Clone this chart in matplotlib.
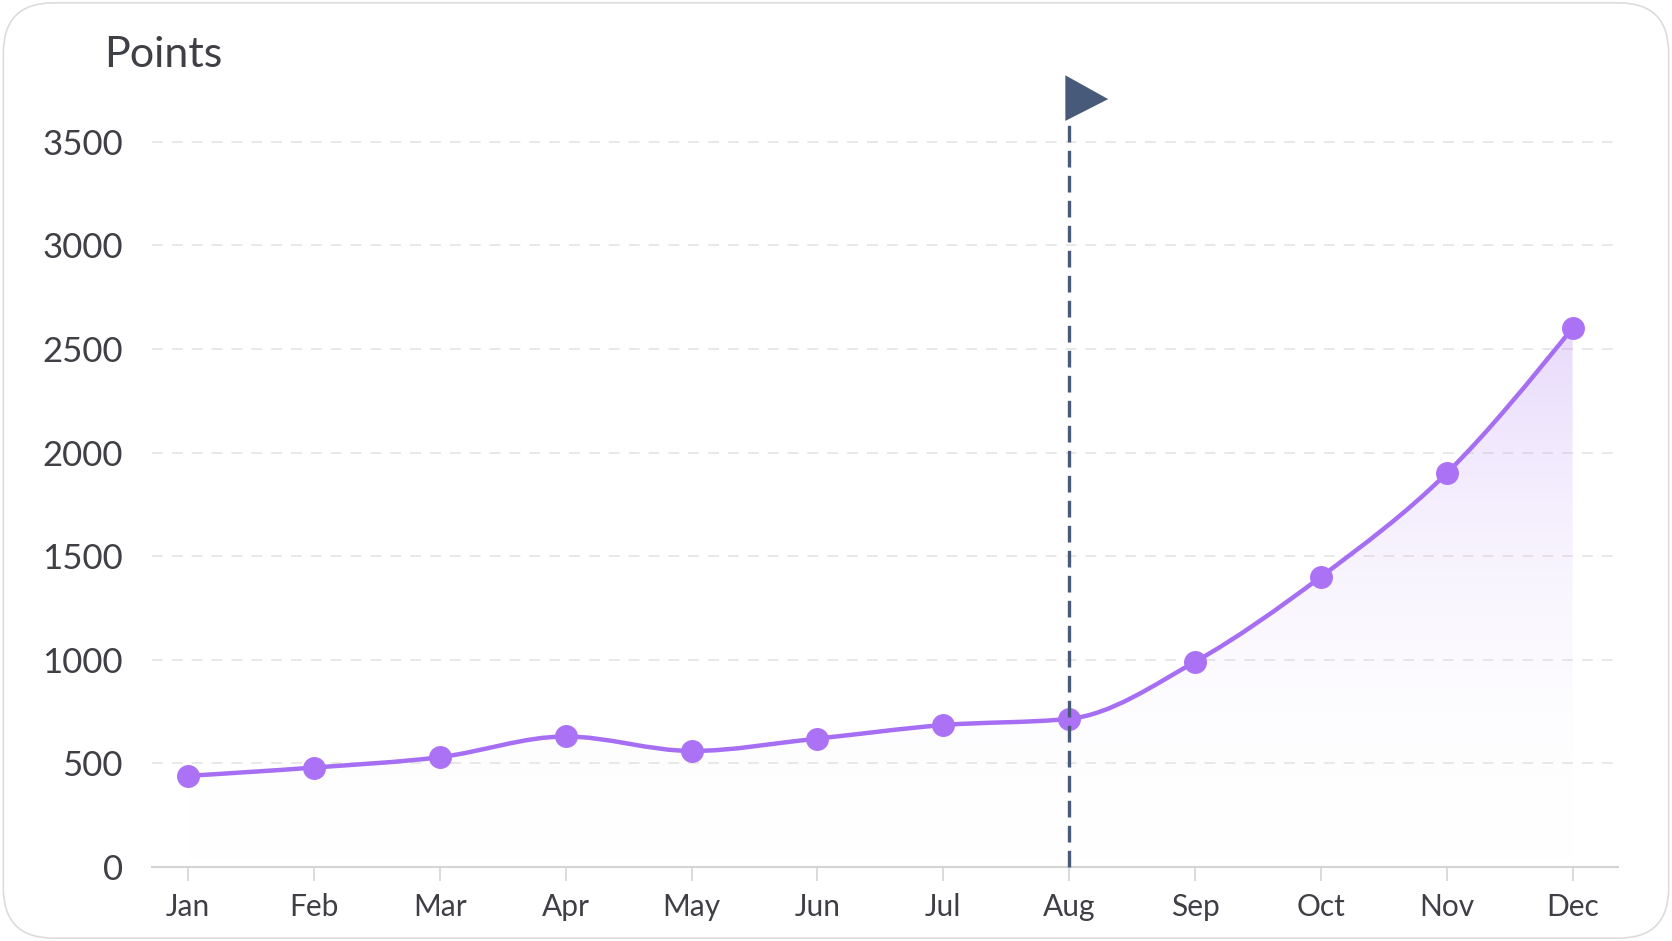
import numpy as np
import matplotlib
matplotlib.use("Agg")
import matplotlib.pyplot as plt
from matplotlib.path import Path
from matplotlib.patches import PathPatch, FancyBboxPatch, Polygon
from matplotlib.colors import LinearSegmentedColormap

plt.rcParams['font.family'] = ['Lato', 'DejaVu Sans']

months = ["Jan", "Feb", "Mar", "Apr", "May", "Jun", "Jul", "Aug", "Sep", "Oct", "Nov", "Dec"]
points = [440, 480, 530, 630, 560, 620, 685, 715, 990, 1400, 1900, 2600]
yticks = [0, 500, 1000, 1500, 2000, 2500, 3000, 3500]
flag_month = "Aug"

LINE = "#a66ef3"
DOT = "#ac72f5"
FLAG = "#485a7a"
TXT = "#3f3f46"


def monotone_path(xs, ys):
    # monotone-x cubic (like d3 curveMonotoneX) as bezier segments
    xs = np.asarray(xs, float)
    ys = np.asarray(ys, float)
    n = len(xs)
    h = np.diff(xs)
    s = np.diff(ys) / h
    m = np.zeros(n)
    for k in range(1, n - 1):
        p = (s[k - 1] * h[k] + s[k] * h[k - 1]) / (h[k - 1] + h[k])
        m[k] = (np.sign(s[k - 1]) + np.sign(s[k])) * min(abs(s[k - 1]), abs(s[k]), 0.5 * abs(p))
    m[0] = (3 * s[0] - m[1]) / 2
    m[-1] = (3 * s[-1] - m[-2]) / 2
    verts = [(xs[0], ys[0])]
    codes = [Path.MOVETO]
    for k in range(n - 1):
        d = h[k] / 3
        verts += [(xs[k] + d, ys[k] + m[k] * d), (xs[k + 1] - d, ys[k + 1] - m[k + 1] * d),
                  (xs[k + 1], ys[k + 1])]
        codes += [Path.CURVE4] * 3
    return verts, codes


fig = plt.figure(figsize=(16.72, 9.41), dpi=100)
fig.patch.set_facecolor("white")
card = FancyBboxPatch((0.002, 0.003), 0.996, 0.994, boxstyle="round,pad=0,rounding_size=0.03",
                      transform=fig.transFigure, facecolor="white", edgecolor="#dcdcdc",
                      linewidth=1.2, mutation_aspect=1672 / 941, zorder=-10)
fig.patches.append(card)

ax = fig.add_axes([0.091, 0.0786, 0.877, 0.848])
ax.set_facecolor("none")
ax.set_zorder(5)
x = np.arange(len(months))

verts, codes = monotone_path(x, points)
curve = Path(verts, codes)

# gradient fill under the curve
fverts = verts + [(x[-1], 0), (x[0], 0), verts[0]]
fcodes = codes + [Path.LINETO, Path.LINETO, Path.CLOSEPOLY]
fill_path = Path(fverts, fcodes)
clip = PathPatch(fill_path, facecolor="none", edgecolor="none", transform=ax.transData)
ax.add_patch(clip)
cmap = LinearSegmentedColormap.from_list("fade", [(1, 1, 1, 0), (0.72, 0.55, 0.96, 0.32)])
grad = np.linspace(0, 1, 256).reshape(-1, 1)
im = ax.imshow(grad, cmap=cmap, aspect="auto", origin="lower",
               extent=[x[0], x[-1], 0, max(points)], zorder=1)
im.set_clip_path(clip)

ax.add_patch(PathPatch(curve, facecolor="none", edgecolor=LINE, linewidth=3.2, zorder=3,
                       capstyle="round"))
ax.plot(x, points, "o", color=DOT, markersize=15.5, zorder=4)

# flag marker
fx = months.index(flag_month)
ax.plot([fx, fx], [0, 3600], color=FLAG, linewidth=2.4, linestyle=(0, (5, 2.5)), zorder=5,
        clip_on=False)
ax.add_patch(Polygon([(fx - 0.03, 3600), (fx - 0.03, 3820), (fx + 0.31, 3705)], closed=True,
                     facecolor=FLAG, edgecolor="none", zorder=6, clip_on=False))

ax.set_xlim(-0.286, 11.365)
ax.set_ylim(0, 3850)
ax.set_xticks(x)
ax.set_xticklabels(months)
ax.set_yticks(yticks)
ax.set_yticklabels([str(v) for v in yticks])
for s in ["top", "right", "left"]:
    ax.spines[s].set_visible(False)
ax.spines["bottom"].set_color("#d4d4d4")
ax.spines["bottom"].set_linewidth(1.5)
ax.tick_params(axis="x", length=10, width=1.2, color="#d4d4d4", pad=9, labelsize=21.5,
               labelcolor=TXT)
ax.tick_params(axis="y", length=0, pad=21, labelsize=25, labelcolor=TXT)
ax.grid(axis="y", color="#e6e6e6", linestyle=(0, (6, 5)), linewidth=1.3)
ax.set_axisbelow(True)
ax.yaxis.get_gridlines()[0].set_visible(False)

fig.text(0.062, 1 - 36 / 941, "Points", fontsize=31, color=TXT, va="top", ha="left")

fig.savefig("out.png", dpi=100)
